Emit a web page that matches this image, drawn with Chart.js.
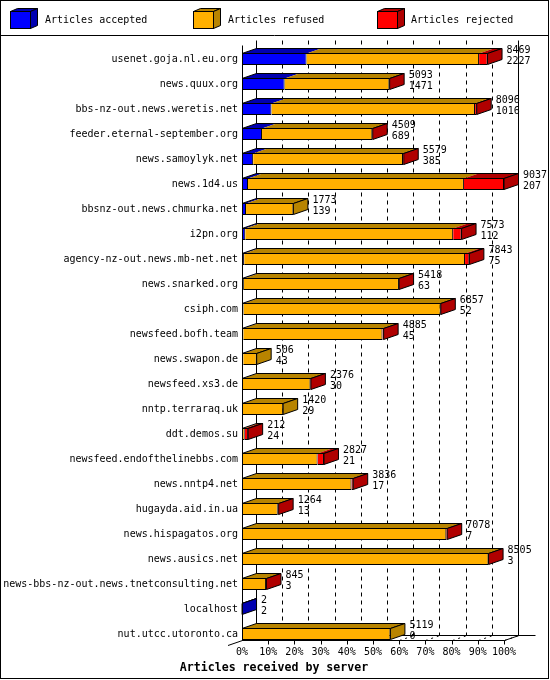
<!DOCTYPE html>
<html>
<head>
<meta charset="utf-8">
<script src="https://cdn.jsdelivr.net/npm/chart.js@4.4.1/dist/chart.umd.min.js"></script>
<style>
  html, body { margin: 0; padding: 0; background: #fff; }
  canvas { display: block; }
</style>
</head>
<body>
<canvas id="servidores" width="550" height="680"></canvas>
<script>
// datos
const servers = [
  'usenet.goja.nl.eu.org', 'news.quux.org', 'bbs-nz-out.news.weretis.net',
  'feeder.eternal-september.org', 'news.samoylyk.net', 'news.1d4.us',
  'bbsnz-out.news.chmurka.net', 'i2pn.org', 'agency-nz-out.news.mb-net.net',
  'news.snarked.org', 'csiph.com', 'newsfeed.bofh.team', 'news.swapon.de',
  'newsfeed.xs3.de', 'nntp.terraraq.uk', 'ddt.demos.su',
  'newsfeed.endofthelinebbs.com', 'news.nntp4.net', 'hugayda.aid.in.ua',
  'news.hispagatos.org', 'news.ausics.net', 'news-bbs-nz-out.news.tnetconsulting.net',
  'localhost', 'nut.utcc.utoronto.ca'
];
const totals   = [8469, 5093, 8096, 4509, 5579, 9037, 1773, 7573, 7843, 5418, 6857, 4885, 506, 2376, 1420, 212, 2827, 3836, 1264, 7078, 8505, 845, 2, 5119];
const accepted = [2227, 1471, 1016, 689, 385, 207, 139, 112, 75, 63, 52, 45, 43, 30, 29, 24, 21, 17, 13, 7, 3, 3, 2, 0];
const refused  = [5950, 3612, 7020, 3805, 5169, 7448, 1634, 7171, 7618, 5350, 6800, 4800, 463, 2331, 1391, 70, 2586, 3759, 1221, 7041, 8497, 827, 0, 5119];
const rejected = [292, 10, 60, 15, 25, 1382, 0, 290, 150, 5, 5, 40, 0, 15, 0, 118, 220, 60, 30, 30, 5, 15, 0, 0];
const seriesNames = ['Articles accepted', 'Articles refused', 'Articles rejected'];
const tickLabels = ['0%', '10%', '20%', '30%', '40%', '50%', '60%', '70%', '80%', '90%', '100%'];
const axisTitle = 'Articles received by server';

const maxTotal = Math.max(...totals);
const colFrente = ['#0000ff', '#ffb000', '#ff0000'];
const colOscuro = ['#0000b0', '#b88400', '#b00000'];
const FUENTE = '"DejaVu Sans Mono", "Liberation Mono", monospace';
const DX = 14.5, DY = 5;

function poligono(ctx, pts, relleno) {
    ctx.beginPath();
    ctx.moveTo(pts[0][0], pts[0][1]);
    for (let i = 1; i < pts.length; i++) ctx.lineTo(pts[i][0], pts[i][1]);
    ctx.closePath();
    if (relleno) { ctx.fillStyle = relleno; ctx.fill(); }
}

function linea(ctx, x1, y1, x2, y2, dash) {
    ctx.save();
    ctx.setLineDash(dash || []);
    ctx.beginPath();
    ctx.moveTo(x1, y1);
    ctx.lineTo(x2, y2);
    ctx.stroke();
    ctx.restore();
}

// cubo pequeño de la leyenda
function cubo(ctx, x, y, w, h, k) {
    const dx = 7, dy = 3;
    ctx.strokeStyle = '#000';
    ctx.lineWidth = 1;
    poligono(ctx, [[x, y], [x + dx, y - dy], [x + w + dx, y - dy], [x + w, y]], colOscuro[k]);
    ctx.stroke();
    poligono(ctx, [[x + w, y], [x + w + dx, y - dy], [x + w + dx, y + h - dy], [x + w, y + h]], colOscuro[k]);
    ctx.stroke();
    ctx.fillStyle = colFrente[k];
    ctx.fillRect(x, y, w, h);
    ctx.strokeRect(x, y, w, h);
}

const barras3d = {
    id: 'barras3d',
    beforeDraw(chart) {
        const ctx = chart.ctx;
        ctx.save();
        ctx.fillStyle = '#fff';
        ctx.fillRect(0, 0, chart.width, chart.height);
        ctx.strokeStyle = '#000';
        ctx.lineWidth = 1;
        ctx.strokeRect(0.5, 0.5, 548, 678);
        linea(ctx, 0, 35.5, 549, 35.5);

        // leyenda
        const posX = [10.5, 193.5, 377.5];
        const txtX = [45, 228, 411];
        ctx.font = '10px ' + FUENTE;
        ctx.textBaseline = 'middle';
        ctx.textAlign = 'left';
        chart.data.datasets.forEach((ds, k) => {
            cubo(ctx, posX[k], 11.5, 20, 17, k);
            ctx.fillStyle = '#000';
            ctx.fillText(ds.label, txtX[k], 20.5);
        });
        ctx.restore();
    },
    beforeDatasetsDraw(chart) {
        const ctx = chart.ctx;
        const xs = chart.scales.x;
        const area = chart.chartArea;
        const x0 = Math.round(xs.getPixelForValue(0)) + 0.5;
        const x100 = Math.round(xs.getPixelForValue(maxTotal)) + 0.5;
        const ultima = chart.getDatasetMeta(0).data[servers.length - 1];
        const pisoF = Math.round(ultima.y + ultima.height / 2) + 0.5;
        const pisoB = pisoF - DY;
        const techoB = Math.round(area.top) - 6.5;

        ctx.save();
        ctx.strokeStyle = '#000';
        ctx.lineWidth = 1;

        // plano del fondo
        for (let i = 1; i < tickLabels.length - 1; i++) {
            const x = Math.round(xs.getPixelForValue(maxTotal * i / 10)) + 0.5 + 14;
            linea(ctx, x, techoB, x, pisoB, [4, 4]);
        }
        linea(ctx, x0 + 14, techoB, x0 + 14, pisoB);
        linea(ctx, x100 + 14, techoB, x100 + 14, pisoB);

        // piso
        linea(ctx, x0 + 14, pisoB, x100 + 31, pisoB);
        linea(ctx, x0, pisoF, x100, pisoF);
        linea(ctx, x100, pisoF, x100 + DX, pisoB);
        linea(ctx, x0 + DX, pisoB, x0 - DX, pisoF + DY);
        for (let i = 1; i < tickLabels.length; i++) {
            const x = Math.round(xs.getPixelForValue(maxTotal * i / 10)) + 0.5;
            linea(ctx, x, pisoF, x, pisoF + 4);
            linea(ctx, x, pisoF, x + DX, pisoB, [2, 4]);
        }

        // caras superior y lateral de cada barra
        const metas = [0, 1, 2].map(k => chart.getDatasetMeta(k));
        const series = [accepted, refused, rejected];
        servers.forEach((s, j) => {
            const el0 = metas[0].data[j];
            const arriba = Math.round(el0.y - el0.height / 2) + 0.5;
            const abajo = Math.round(el0.y + el0.height / 2) - 0.5;
            let ini = null, fin = null, ultimoK = -1;
            for (let k = 0; k < 3; k++) {
                const el = metas[k].data[j];
                if (series[k][j] <= 0) continue;
                const a = el.base, b = el.x;
                if (ini === null) ini = a;
                fin = b;
                ultimoK = k;
                poligono(ctx, [[a, arriba], [a + DX, arriba - DY], [b + DX, arriba - DY], [b, arriba]], colOscuro[k]);
            }
            if (ultimoK < 0) return;
            poligono(ctx, [[ini, arriba], [ini + DX, arriba - DY], [fin + DX, arriba - DY], [fin, arriba]]);
            ctx.stroke();
            poligono(ctx, [[fin, arriba], [fin + DX, arriba - DY], [fin + DX, abajo - DY], [fin, abajo]], colOscuro[ultimoK]);
            ctx.stroke();
        });
        ctx.restore();
    },
    afterDatasetsDraw(chart) {
        const ctx = chart.ctx;
        const xs = chart.scales.x;
        const area = chart.chartArea;
        const x0 = Math.round(xs.getPixelForValue(0)) + 0.5;
        const ultima = chart.getDatasetMeta(0).data[servers.length - 1];
        const pisoF = Math.round(ultima.y + ultima.height / 2) + 0.5;

        ctx.save();
        ctx.strokeStyle = '#000';
        ctx.lineWidth = 1;
        linea(ctx, x0, Math.round(area.top) - 1.5, x0, pisoF);

        // totales y aceptados a la derecha de cada barra
        ctx.fillStyle = '#000';
        ctx.font = '10px ' + FUENTE;
        ctx.textAlign = 'left';
        ctx.textBaseline = 'middle';
        const metaFin = chart.getDatasetMeta(2);
        servers.forEach((s, j) => {
            const el = metaFin.data[j];
            const x = el.x + DX + 4.5;
            ctx.fillText(String(totals[j]), x, el.y - 8.5);
            ctx.fillText(String(accepted[j]), x, el.y + 2);
        });

        // etiquetas del eje x
        ctx.textAlign = 'center';
        tickLabels.forEach((t, i) => {
            const x = xs.getPixelForValue(maxTotal * i / 10);
            ctx.fillText(t, x, pisoF + 12);
        });

        ctx.font = 'bold 11.6px ' + FUENTE;
        ctx.fillText(axisTitle, 274, 667.5);
        ctx.restore();
    }
};

const ctx = document.getElementById('servidores').getContext('2d');
new Chart(ctx, {
    type: 'bar',
    data: {
        labels: servers,
        datasets: [
            { label: seriesNames[0], data: accepted, backgroundColor: colFrente[0] },
            { label: seriesNames[1], data: refused, backgroundColor: colFrente[1] },
            { label: seriesNames[2], data: rejected, backgroundColor: colFrente[2] }
        ]
    },
    options: {
        indexAxis: 'y',
        responsive: false,
        animation: false,
        devicePixelRatio: 1,
        layout: { padding: { top: 46.5, bottom: 33.5, left: 0, right: 46 } },
        datasets: {
            bar: {
                barThickness: 12,
                borderColor: '#000',
                borderWidth: 1,
                borderSkipped: 'start',
                inflateAmount: 0
            }
        },
        plugins: {
            legend: { display: false },
            tooltip: { enabled: false }
        },
        scales: {
            x: { stacked: true, min: 0, max: maxTotal, display: false },
            y: {
                stacked: true,
                grid: { display: false, drawTicks: false },
                border: { display: false },
                ticks: {
                    color: '#000',
                    autoSkip: false,
                    padding: 4,
                    font: { family: FUENTE, size: 10 }
                },
                afterFit(scale) { scale.width = 242; }
            }
        }
    },
    plugins: [barras3d]
});
</script>
</body>
</html>
